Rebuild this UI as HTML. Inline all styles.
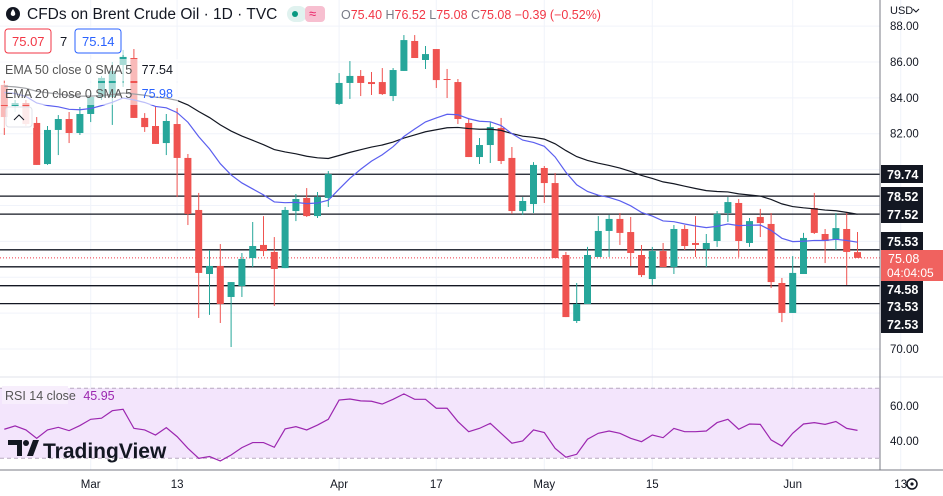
<!DOCTYPE html>
<html><head><meta charset="utf-8">
<style>
html,body{margin:0;padding:0;background:#fff;width:943px;height:496px;overflow:hidden;font-family:"Liberation Sans",sans-serif}
svg text{font-family:"Liberation Sans",sans-serif}
</style></head>
<body>
<svg id="chart" width="943" height="496" viewBox="0 0 943 496" xmlns="http://www.w3.org/2000/svg">
<g id="grid"></g>
<rect x="0" y="388" width="880" height="70" fill="#f3e5fc"/>
<line x1="0" y1="388.3" x2="880" y2="388.3" stroke="#b8a8c0" stroke-dasharray="4,3"/>
<line x1="0" y1="458.3" x2="880" y2="458.3" stroke="#b8a8c0" stroke-dasharray="4,3"/>
<g id="levels"></g>
<g id="candles"></g>
<g id="emas"></g>
<g id="rsi"></g>
<line x1="0" y1="377" x2="943" y2="377" stroke="#e0e3eb"/>
<line x1="0" y1="470" x2="943" y2="470" stroke="#787b86"/>
<line x1="880" y1="0" x2="880" y2="470" stroke="#787b86"/>
<g id="xaxis"></g>
<g id="yaxis"></g>
<g id="labels"></g>

<text x="890" y="14" font-size="11" fill="#131722">USD</text>
<path d="M913 9 l3 3 l3 -3" fill="none" stroke="#131722"/>
<g><circle cx="912" cy="484" r="5" fill="none" stroke="#131722" stroke-width="1.5"/><circle cx="912" cy="484" r="1.6" fill="#131722"/></g>

<g>
<rect x="0" y="27" width="126" height="28" fill="#fff" fill-opacity="0.6"/>
<rect x="0" y="59" width="178" height="22" fill="#fff" fill-opacity="0.6"/>
<rect x="0" y="83" width="178" height="22" fill="#fff" fill-opacity="0.6"/>
<rect x="0" y="106" width="34" height="22" fill="#fff" fill-opacity="0.6"/>
<circle cx="13" cy="14" r="7" fill="#131722"/>
<path d="M13 9 q-3 4 -2 6 q2 2 4 0 q1 -2 -2 -6z" fill="#fff"/>
<text x="27" y="19" font-size="15.5" fill="#131722">CFDs on Brent Crude Oil · 1D · TVC</text>
<rect x="287" y="6" width="20" height="16" rx="8" fill="#e0f2ef"/>
<circle cx="295" cy="14" r="3" fill="#089981"/>
<rect x="305" y="6" width="20" height="16" rx="4" fill="#f7bfd0"/>
<text x="309" y="18" font-size="13" fill="#e91e63">≈</text>
<text x="341" y="19" font-size="12.5" fill="#f23645"><tspan fill="#787b86">O</tspan>75.40 <tspan fill="#787b86">H</tspan>76.52 <tspan fill="#787b86">L</tspan>75.08 <tspan fill="#787b86">C</tspan>75.08 −0.39 (−0.52%)</text>
<rect x="5" y="29" width="46" height="24" rx="3" fill="#fff" stroke="#f23645"/>
<text x="12" y="46" font-size="13" fill="#f23645">75.07</text>
<text x="60" y="46" font-size="13" fill="#131722">7</text>
<rect x="75" y="29" width="46" height="24" rx="3" fill="#fff" stroke="#2962ff"/>
<text x="82" y="46" font-size="13" fill="#2962ff">75.14</text>
<text x="5" y="74" font-size="12.5" fill="#555">EMA 50 close 0 SMA 5 <tspan fill="#131722" dx="6">77.54</tspan></text>
<text x="5" y="98" font-size="12.5" fill="#555">EMA 20 close 0 SMA 5 <tspan fill="#2962ff" dx="6">75.98</tspan></text>
<rect x="6" y="107" width="26" height="20" rx="3" fill="#fff" fill-opacity="0.7" stroke="#e0e3eb"/>
<path d="M14 120 l5 -5 l5 5" fill="none" stroke="#131722"/>
<rect x="2" y="386" width="66" height="18" fill="#f7eefc"/>
<text x="5" y="400" font-size="12.5" fill="#555">RSI 14 close <tspan fill="#9c27b0" dx="4">45.95</tspan></text>
<g>
<path d="M8 440 h14 v16 h-5 v-11 h-9z" fill="#131722"/><circle cx="26" cy="443" r="3" fill="#131722"/><path d="M27 456 l6 -16 h6 l-6 16z" fill="#131722"/>
<text x="43" y="458" font-size="21" font-weight="bold" fill="#131722">TradingView</text>
</g>
</g>
</svg>
<script>
const opens=[84.72,83.54,83.71,82.60,80.31,82.21,82.82,82.04,83.10,84.05,84.05,85.83,86.22,82.88,82.43,81.48,82.54,80.65,77.75,74.18,74.63,72.90,73.51,75.07,75.80,75.41,74.51,77.69,78.42,77.41,78.42,83.66,84.83,85.22,84.88,84.88,84.10,85.50,87.17,86.11,86.72,85.05,84.88,82.60,80.70,81.37,82.32,80.65,77.69,78.08,80.09,79.25,75.24,71.56,72.51,75.13,76.58,77.25,76.52,75.24,73.90,75.46,74.57,76.69,75.91,75.57,76.02,77.58,78.14,75.91,77.36,76.97,73.68,72.01,74.18,77.86,76.41,76.13,76.69,75.40];
const highs=[84.99,83.88,83.88,82.93,82.43,83.04,83.21,83.49,84.27,85.22,86.00,86.67,86.72,83.15,83.54,83.10,83.43,80.87,78.70,75.52,75.85,73.73,75.35,77.08,77.41,76.24,77.92,78.64,78.97,78.75,79.92,85.38,86.05,85.55,85.44,85.66,85.66,87.50,87.50,86.89,86.72,85.61,85.05,82.88,81.76,82.65,82.88,81.26,78.47,80.42,80.20,79.81,75.41,73.68,75.69,77.41,77.47,77.58,77.36,75.80,75.69,75.91,76.91,76.91,77.41,76.41,77.69,78.47,78.36,77.30,77.81,77.58,73.96,75.18,76.47,78.70,76.69,77.58,77.64,76.52];
const lows=[81.93,83.21,82.43,80.26,80.26,80.81,81.48,81.93,82.65,83.88,82.49,84.61,82.88,82.10,81.43,80.81,78.47,76.91,71.73,71.90,71.45,70.11,72.90,74.57,75.18,72.40,74.51,77.13,77.36,77.30,77.92,83.60,83.94,84.10,84.16,84.16,83.82,85.50,86.22,85.61,84.55,83.99,82.54,80.70,80.31,80.37,80.31,77.53,77.47,77.58,78.14,75.07,71.78,71.45,72.51,75.13,75.13,75.80,74.63,74.01,73.57,74.57,74.18,75.52,75.13,74.57,75.69,77.08,75.13,75.69,76.24,73.40,71.50,72.01,74.18,76.41,74.79,75.52,73.57,75.08];
const closes=[82.93,83.71,82.54,80.26,82.21,82.82,82.04,83.10,84.05,85.11,85.50,86.28,82.88,82.37,81.43,82.71,80.65,77.53,74.24,74.63,72.51,73.73,75.02,75.74,75.46,74.46,77.75,78.36,77.41,78.47,79.75,84.83,85.22,84.83,84.77,84.21,85.55,87.22,86.22,86.44,84.99,85.02,82.82,80.70,81.37,82.37,80.48,77.69,78.25,80.26,79.25,75.07,71.78,72.51,75.24,76.58,77.25,76.47,75.35,74.12,75.46,74.57,76.69,75.74,75.80,75.91,77.53,78.19,76.02,77.13,77.02,73.73,72.01,74.24,76.19,76.47,76.02,76.74,75.41,75.08];
const rsiValues=[46.6,48.5,46.2,41.4,46.2,47.7,45.8,48.7,52.3,52.9,57.2,58,47.1,46.2,43.3,47.5,42.4,35.7,30,31,28.5,31.9,36.1,39,39,36.3,46.8,48.1,46.2,49,52.3,63.3,63.9,62.8,62.6,61,63.7,66.8,63.7,63.7,58.6,58.6,51,45.2,47.1,50,44.3,38.6,39.9,46.2,44.7,35.7,30.6,32.3,40.9,44.3,45.6,44.3,41.4,39.5,43.3,41.8,47.1,45.2,45.2,45.6,50.4,52.3,46.6,49.6,49.4,40.5,37,44.3,49.6,50.4,49.4,51,47.1,45.95];
const levelValues=[79.74,78.52,77.52,75.53,74.58,73.53,72.53];
const levelLabelY=[174,196,214,241,289,306,324];
const priceTicks=[70,72,74,76,78,80,82,84,86,88];
const priceTickLabels=["70.00","","","","","","82.00","84.00","86.00","88.00"];
const rsiTicks=[40,60];
const dateLabels=["Mar","13","Apr","17","May","15","Jun","13"];
const dateIndex=[8,16,31,40,50,60,73,83];
const ema20Seed=84.44, ema50Seed=84.72;
const lastClose=75.08;

const NS="http://www.w3.org/2000/svg";
const yP=p=>349-(p-70)*17.94;
const xI=i=>4.3+i*10.8;
const yR=v=>388.3+(70-v)*1.75;
function mk(parent,tag,attrs){const e=document.createElementNS(NS,tag);for(const k in attrs)e.setAttribute(k,attrs[k]);document.getElementById(parent).appendChild(e);return e;}

priceTicks.forEach(p=>{const l=mk('grid','line',{x1:0,x2:880,y1:yP(p),y2:yP(p),stroke:'#f0f3fa'});

});
dateIndex.forEach(i=>{const l=mk('grid','line',{x1:xI(i),x2:xI(i),y1:0,y2:470,stroke:'#f0f3fa'});

});
rsiTicks.forEach(v=>{const l=mk('grid','line',{x1:0,x2:880,y1:yR(v),y2:yR(v),stroke:'#f0f3fa'});

});

levelValues.forEach(v=>{const l=mk('levels','line',{x1:0,x2:880,y1:yP(v),y2:yP(v),stroke:'#131722','stroke-width':1.3});

});
const cl=mk('levels','line',{x1:0,x2:880,y1:yP(lastClose),y2:yP(lastClose),stroke:'#f23645','stroke-dasharray':'1,2'});



closes.forEach((c,i)=>{const o=opens[i],up=c>=o,col=up?'#26a69a':'#ef5350',x=xI(i);
const w=mk('candles','line',{x1:x,x2:x,y1:yP(highs[i]),y2:yP(lows[i]),stroke:col});


const t=Math.min(yP(o),yP(c)),h=Math.max(1,Math.abs(yP(o)-yP(c)));
const b=mk('candles','rect',{x:x-3.5,y:t,width:7,height:h,fill:col});

});

function ema(seed,n){const k=2/(n+1);let e=seed;return closes.map(c=>(e=e+(c-e)*k));}
[[ema50Seed,50,'#131722','ema50-line'],[ema20Seed,20,'#5b5fef','ema20-line']].forEach(([s,n,col,name])=>{
const pts=ema(s,n).map((v,i)=>xI(i)+','+yP(v)).join(' ');
const p=mk('emas','polyline',{points:pts,fill:'none',stroke:col,'stroke-width':1.2});

});

const rp=mk('rsi','polyline',{points:rsiValues.map((v,i)=>xI(i)+','+yR(v)).join(' '),fill:'none',stroke:'#9c27b0','stroke-width':1.2});


rsiTicks.forEach(v=>{const t=mk('yaxis','text',{x:890,y:yR(v)+4,'font-size':11.5,fill:'#131722'});t.textContent=v.toFixed(2);

});

priceTicks.forEach((p,i)=>{if(!priceTickLabels[i])return;const t=mk('yaxis','text',{x:890,y:yP(p)+4,'font-size':11.5,fill:'#131722'});t.textContent=priceTickLabels[i];

});
dateLabels.forEach((d,i)=>{const t=mk('xaxis','text',{x:xI(dateIndex[i]),y:488,'font-size':11.5,fill:'#131722','text-anchor':'middle'});t.textContent=d;

});

levelValues.forEach((v,i)=>{const y=levelLabelY[i];
const r=mk('labels','rect',{x:881,y:y-9,width:42,height:18,fill:'#131722'});


const t=mk('labels','text',{x:887,y:y+5,'font-size':12.5,'font-weight':'bold',fill:'#fff'});t.textContent=v.toFixed(2);

});
const pr=mk('labels','rect',{x:881,y:250,width:62,height:31,fill:'#f0625f'});


const pt=mk('labels','text',{x:888,y:263,'font-size':12.5,fill:'#fff'});pt.textContent=lastClose.toFixed(2);


const ct=mk('labels','text',{x:887,y:277,'font-size':12,fill:'#fff'});ct.textContent='04:04:05';


</script>
</body></html>
